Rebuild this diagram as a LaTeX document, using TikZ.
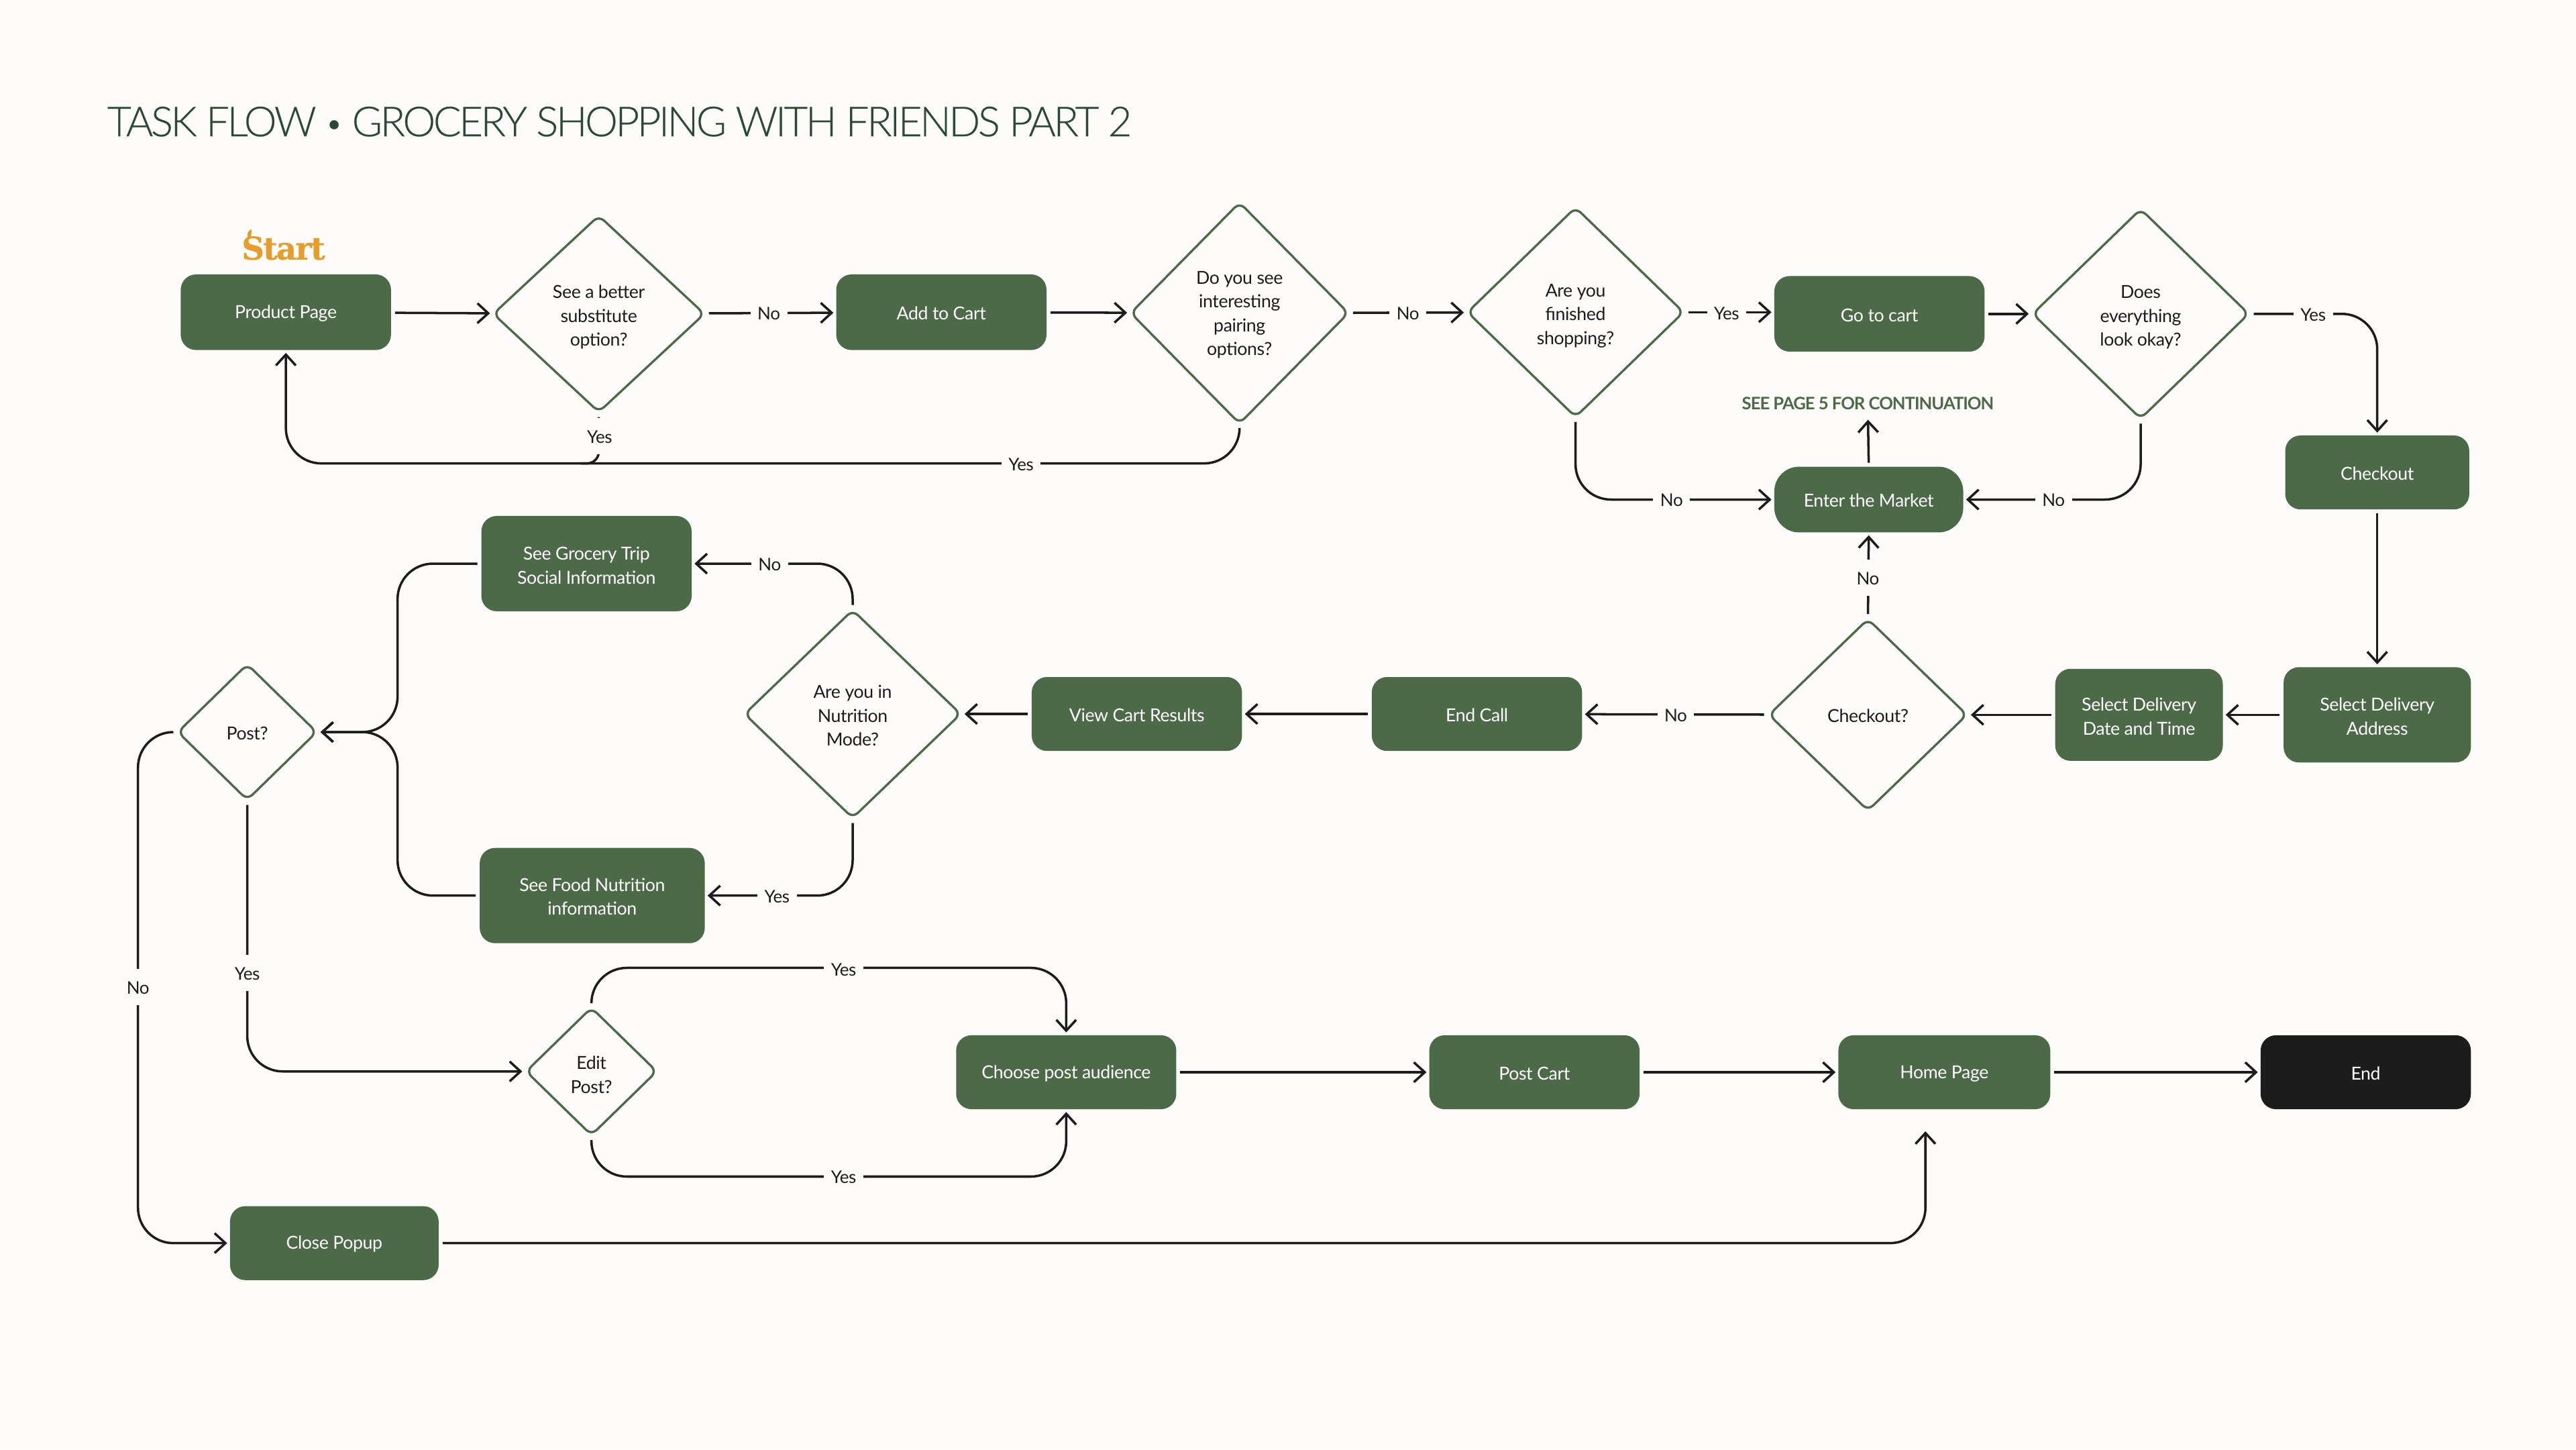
\documentclass[tikz,border=0pt]{standalone}
\usepackage{fontspec}
\setmainfont{Lato}
\newfontfamily\startfont{DejaVu Serif}
\newfontfamily\titlefont{Lato Light}
\usetikzlibrary{arrows.meta,shapes.geometric}
\newcommand{\un}{0.02449cm}
\newcommand{\lift}[1]{\rule{0pt}{#1pt}}
\definecolor{bgpage}{HTML}{FDFCFA}
\definecolor{moss}{HTML}{4C6A47}
\definecolor{ink}{HTML}{1C1C1C}
\definecolor{pine}{HTML}{2A4A36}
\definecolor{amber}{HTML}{E59E2B}
\tikzset{
  stepbox/.style 2 args={draw=none, fill=moss, text=white, rounded corners=6.5pt, align=center, inner sep=0pt,
    minimum width=#1*\un, minimum height=#2*\un, font=\fontsize{7.6}{10.1}\selectfont\addfontfeatures{LetterSpace=-1.5},
    execute at begin node={\rule{0pt}{6.6pt}}},
  choice/.style 2 args={diamond, draw=moss, line width=0.95pt, fill=bgpage, text=ink, rounded corners=3pt, align=center, inner sep=0pt,
    minimum width=#1*\un, minimum height=#2*\un, font=\fontsize{7.6}{10.1}\selectfont\addfontfeatures{LetterSpace=-1.5},
    execute at begin node={\rule{0pt}{6.6pt}}},
  flow/.style={draw=ink, line width=1pt, ->, shorten >=1pt, shorten <=1.5pt, rounded corners=15pt},
  lab/.style={fill=bgpage, text=ink, inner xsep=3pt, inner ysep=0pt, minimum height=22*\un,
    font=\fontsize{7.4}{9}\selectfont\addfontfeatures{LetterSpace=-1.5},
    execute at begin node={\rule{0pt}{6pt}}},
  >={Straight Barb[length=4.6pt, width=8.4pt, line width=1pt]}
}
\begin{document}
\begin{tikzpicture}[x=\un, y=-\un]
\fill[bgpage] (0,0) rectangle (1568,882); % page
\useasboundingbox (0,0) rectangle (1568,882);

\node[text=pine, anchor=west, inner sep=0pt, font=\fontsize{17.6}{20}\titlefont\addfontfeatures{LetterSpace=-5.7,FakeBold=0.2}] (title) at (65,74) {TASK FLOW \raisebox{1pt}{\fontsize{13}{14}\selectfont •} GROCERY SHOPPING WITH FRIENDS PART 2};
\node[text=amber, inner sep=0pt, font=\fontsize{13.3}{14}\startfont\bfseries\addfontfeatures{LetterSpace=-4,FakeBold=0.5}] (startlabel) at (172.5,151) {Start};
\fill[amber] (151,145.5) .. controls (150,142) and (151,140.5) .. (153,139.5) .. controls (153.5,142) and (153,144) .. (151,145.5); % leaf
\node[text=moss, inner sep=0pt, font=\fontsize{7.3}{9}\selectfont\bfseries\addfontfeatures{LetterSpace=-4}] (seepage) at (1137,245.5) {SEE PAGE 5 FOR CONTINUATION};

% first row
\node[stepbox={128}{46}] (productpage) at (174,190) {Product Page};
\node[choice={129}{120}] (better) at (364.5,191) {\lift{8.5}See a better\\substitute\\option?};
\node[stepbox={128}{46}] (addcart) at (573,190) {Add to Cart};
\node[choice={133}{135}] (pairing) at (754.5,190.5) {\lift{7.1}Do you see\\interesting\\pairing\\options?};
\node[choice={132}{128}] (finished) at (959,190) {\lift{8.5}Are you\\finished\\shopping?};
\node[stepbox={128}{46}] (gocart) at (1144,191) {Go to cart};
\node[choice={132}{128}] (okay) at (1303,191) {\lift{8.5}Does\\everything\\look okay?};

\node[stepbox={115}{40}, rounded corners=10.5pt] (market) at (1137.5,304) {Enter the Market};
\node[stepbox={112}{45}] (checkout) at (1447,287.5) {Checkout};

% second row
\node[stepbox={114}{58}] (address) at (1447,435) {\lift{7.1}Select Delivery\\Address};
\node[stepbox={102}{56}] (datetime) at (1302,435) {\lift{7.1}Select Delivery\\Date and Time};
\node[choice={121}{117}] (checkq) at (1137,435) {Checkout?};
\node[stepbox={128}{45}] (endcall) at (899,434.5) {End Call};
\node[stepbox={128}{45}] (results) at (692,434.5) {View Cart Results};
\node[choice={132}{127}] (nutrition) at (519,434.5) {\lift{7.1}Are you in\\Nutrition\\Mode?};
\node[stepbox={128}{58}] (grocery) at (357,343) {\lift{7.1}See Grocery Trip\\Social Information};
\node[stepbox={137}{58}] (food) at (360.5,545) {\lift{6.5}See Food Nutrition\\information};
\node[choice={85}{83}] (post) at (150.5,445.5) {Post?};

% last rows
\node[choice={80}{78}] (edit) at (360,652) {\lift{8.5}Edit\\Post?};
\node[stepbox={134}{45}] (audience) at (649,652.5) {Choose post audience};
\node[stepbox={128}{45}] (postcart) at (934,652.5) {Post Cart};
\node[stepbox={129}{45}] (home) at (1183.5,652.5) {Home Page};
\node[stepbox={128}{45}, fill=ink] (finish) at (1440,652.5) {End};
\node[stepbox={127}{45}] (popup) at (203.5,756.5) {Close Popup};

\coordinate (loopy) at (560,282); % shared return line
\coordinate (curlend) at (352,282);
\coordinate (homein) at (1172,687);
\coordinate (splitx) at (242,445.5);

\draw[flow] (productpage) -- (better);
\draw[flow] (better) -- (addcart);
\draw[flow] (addcart) -- (pairing);
\draw[flow] (pairing) -- (finished);
\draw[flow] (finished) -- (gocart.west |- finished);
\draw[flow] (gocart) -- (okay.west |- gocart);
\draw[flow] (okay.east) -| (checkout.north);
\draw[flow] (okay.south) |- (market.east);
\draw[flow] (finished.south) |- (market.west);
\draw[flow] (market.north) -- (seepage.south |- 0,254);
\draw[flow] (checkq.north) -- (market.south);
\draw[flow] (pairing.south) |- (loopy) -| (productpage.south);
\draw[flow, -, rounded corners=5pt] (better.south) |- (curlend);
\draw[flow] (checkout) -- (address);
\draw[flow] (address) -- (datetime);
\draw[flow] (datetime) -- (checkq);
\draw[flow] (checkq) -- (endcall);
\draw[flow] (endcall) -- (results);
\draw[flow] (results) -- (nutrition);
\draw[flow] (nutrition.north) |- (grocery.east);
\draw[flow] (nutrition.south) |- (food.east);
\draw[flow] (grocery.west) -| (splitx) -- (post.east);
\draw[flow] (food.west) -| (splitx) -- (post.east);
\draw[flow] (post.south) |- (edit.west);
\draw[flow] (post.west) -| (84,600) |- (popup.west);
\draw[flow] (edit.north) |- (500,589) -| (audience.north);
\draw[flow] (edit.south) |- (500,716) -| (audience.south);
\draw[flow] (audience) -- (postcart);
\draw[flow] (postcart) -- (home);
\draw[flow] (home) -- (finish);
\draw[flow] (popup.east) -| (homein);

% labels on the lines
\node[lab] (noa) at (468,190.5) {No};
\node[lab] (yesa) at (365,265.5) {Yes};
\node[lab] (yesb) at (621.5,282) {Yes};
\node[lab] (nob) at (857,190.5) {No};
\node[lab] (yesc) at (1051,190.5) {Yes};
\node[lab] (yesd) at (1408,191) {Yes};
\node[lab] (noc) at (1017.5,304) {No};
\node[lab] (nod) at (1250,304) {No};
\node[lab] (noe) at (1137,351.5) {No};
\node[lab] (nof) at (1020,435) {No};
\node[lab] (nog) at (468.5,343) {No};
\node[lab] (yese) at (473,545) {Yes};
\node[lab] (yesf) at (150.5,592) {Yes};
\node[lab] (noh) at (84,600.5) {No};
\node[lab] (yesg) at (513.5,589.5) {Yes};
\node[lab] (yesh) at (513.5,716) {Yes};

\end{tikzpicture}
\end{document}
